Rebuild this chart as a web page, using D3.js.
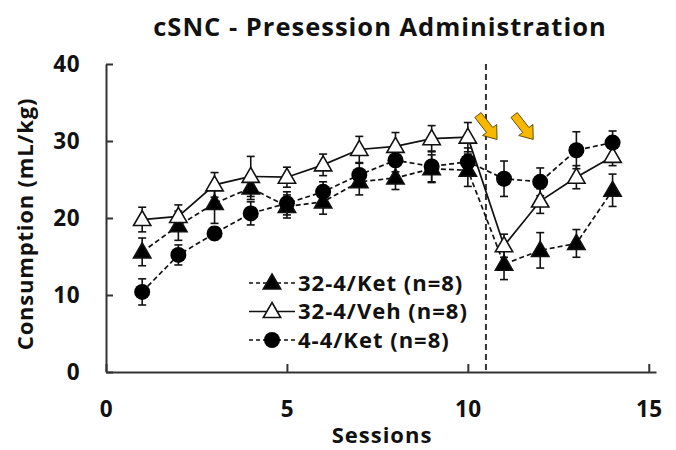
<!DOCTYPE html>
<html>
<head>
<meta charset="utf-8">
<script src="https://cdn.jsdelivr.net/npm/d3@7"></script>
<style>
  body { margin: 0; background: #fff; }
  text { font-family: "Open Sans", sans-serif; font-weight: 700; fill: #111; }
</style>
</head>
<body>
<svg id="chart" width="676" height="450"></svg>
<script>
// session numbers
var sessions = [1, 2, 3, 4, 5, 6, 7, 8, 9, 10, 11, 12, 13, 14];

// 32-4/Ket
var ket32 = [15.6, 19.0, 21.9, 23.9, 21.5, 22.1, 24.7, 25.2, 26.4, 26.2, 14.0, 15.8, 16.7, 23.6];
var ket32Err = [1.8, 1.9, 2.6, 1.5, 1.5, 1.6, 1.7, 1.5, 1.8, 2.1, 2.0, 2.3, 1.8, 2.1];
// 32-4/Veh
var veh32 = [19.8, 20.2, 24.3, 25.4, 25.3, 26.9, 28.9, 29.3, 30.3, 30.5, 16.4, 22.2, 25.3, 28.0];
var veh32Err = [1.6, 1.5, 1.6, 2.6, 1.3, 1.4, 1.7, 1.8, 1.7, 1.9, 1.5, 1.6, 1.5, 1.2];
// 4-4/Ket
var ket44 = [10.4, 15.2, 18.0, 20.6, 21.9, 23.4, 25.6, 27.5, 26.7, 27.3, 25.1, 24.7, 28.8, 29.8];
var ket44Err = [1.7, 1.3, 0.8, 1.5, 1.5, 1.3, 1.5, 1.5, 2.0, 1.8, 2.3, 1.8, 2.4, 1.5];

var seriesNames = ["32-4/Ket (n=8)", "32-4/Veh (n=8)", "4-4/Ket (n=8)"];
var xTicks = [0, 5, 10, 15];
var yTicks = [0, 10, 20, 30, 40];
var splitSession = 10.5;        // dashed vertical line
var arrowSessions = [11, 12];   // yellow arrows

var svg = d3.select("#chart");

var x = d3.scaleLinear().domain([0, 15.2]).range([106, 656]),
    y = d3.scaleLinear().domain([0, 40]).range([372, 64]);

var series = [
  {name: seriesNames[0], values: ket32, err: ket32Err, dash: "5,3", shape: "tri", fill: "#000"},
  {name: seriesNames[1], values: veh32, err: veh32Err, dash: null, shape: "tri", fill: "#fff"},
  {name: seriesNames[2], values: ket44, err: ket44Err, dash: "5,3", shape: "circle", fill: "#000"}
];

var triangle = d3.symbol().type(d3.symbolTriangle).size(130);

// title
svg.append("text")
    .attr("x", 380)
    .attr("y", 36)
    .attr("text-anchor", "middle")
    .attr("font-size", "25.5px")
    .attr("letter-spacing", "1px")
    .text("cSNC - Presession Administration");

// axes
var xAxis = d3.axisBottom(x)
    .tickValues(xTicks)
    .tickSize(-8)
    .tickSizeOuter(0)
    .tickPadding(29);

var yAxis = d3.axisLeft(y)
    .tickValues(yTicks)
    .tickSize(-7)
    .tickSizeOuter(0)
    .tickPadding(26);

var gx = svg.append("g")
    .attr("transform", "translate(0," + y(0) + ")")
    .call(xAxis);

var gy = svg.append("g")
    .attr("transform", "translate(" + x(0) + ",0)")
    .call(yAxis);

[gx, gy].forEach(function(g) {
  g.selectAll("path, line").attr("stroke", "#333").attr("stroke-width", 2);
  g.selectAll("text")
      .attr("font-size", "22.5px")
      .attr("letter-spacing", "0.5px")
      .attr("font-family", "Open Sans, sans-serif")
      .attr("font-weight", "700")
      .attr("fill", "#111");
});

svg.append("text")
    .attr("x", 382)
    .attr("y", 443)
    .attr("text-anchor", "middle")
    .attr("font-size", "22px")
    .attr("letter-spacing", "1px")
    .text("Sessions");

svg.append("text")
    .attr("transform", "translate(33,224) rotate(-90)")
    .attr("text-anchor", "middle")
    .attr("font-size", "22px")
    .attr("letter-spacing", "0.8px")
    .text("Consumption (mL/kg)");

// dashed split line
svg.append("line")
    .attr("x1", x(splitSession))
    .attr("x2", x(splitSession))
    .attr("y1", y(40))
    .attr("y2", y(0))
    .attr("stroke", "#333")
    .attr("stroke-width", 2)
    .attr("stroke-dasharray", "6,4");

var line = d3.line()
    .x(function(d, i) { return x(sessions[i]); })
    .y(function(d) { return y(d); });

// error bars
series.forEach(function(s) {
  var eb = svg.append("g").attr("stroke", "#111").attr("stroke-width", 1.6);
  s.values.forEach(function(v, i) {
    var cx = x(sessions[i]);
    eb.append("line").attr("x1", cx).attr("x2", cx).attr("y1", y(v - s.err[i])).attr("y2", y(v + s.err[i]));
    eb.append("line").attr("x1", cx - 4).attr("x2", cx + 4).attr("y1", y(v + s.err[i])).attr("y2", y(v + s.err[i]));
    eb.append("line").attr("x1", cx - 4).attr("x2", cx + 4).attr("y1", y(v - s.err[i])).attr("y2", y(v - s.err[i]));
  });
});

// lines
series.forEach(function(s) {
  svg.append("path")
      .attr("d", line(s.values))
      .attr("fill", "none")
      .attr("stroke", "#111")
      .attr("stroke-width", 1.7)
      .attr("stroke-dasharray", s.dash);
});

function drawMarker(g, s, cx, cy) {
  if (s.shape == "circle") {
    g.append("circle")
        .attr("cx", cx)
        .attr("cy", cy)
        .attr("r", 8)
        .attr("fill", s.fill);
  } else {
    g.append("path")
        .attr("d", triangle)
        .attr("transform", "translate(" + cx + "," + (cy + 1) + ")")
        .attr("fill", s.fill)
        .attr("stroke", "#111")
        .attr("stroke-width", 1.6);
  }
}

// markers
series.forEach(function(s) {
  var g = svg.append("g");
  s.values.forEach(function(v, i) {
    drawMarker(g, s, x(sessions[i]), y(v));
  });
});

// yellow arrows
arrowSessions.forEach(function(sess) {
  var tipX = x(sess) - 7,
      tipY = y(30.2);
  svg.append("path")
      .attr("d", "M0,0 L-12,-9 L-12,-4 L-31,-4 L-31,4 L-12,4 L-12,9 Z")
      .attr("transform", "translate(" + tipX + "," + tipY + ") rotate(52)")
      .attr("fill", "#f9b800")
      .attr("stroke", "#4a3a00")
      .attr("stroke-width", 0.8);
});

// legend
var legend = svg.append("g");
series.forEach(function(s, i) {
  var ly = 283 + i * 28.5;
  legend.append("line")
      .attr("x1", 249)
      .attr("x2", 295)
      .attr("y1", ly)
      .attr("y2", ly)
      .attr("stroke", "#111")
      .attr("stroke-width", 1.6)
      .attr("stroke-dasharray", s.dash ? "4,3" : null);
  drawMarker(legend, s, 272, ly);
  legend.append("text")
      .attr("x", 298)
      .attr("y", ly)
      .attr("dy", "0.35em")
      .attr("font-size", "22px")
      .attr("letter-spacing", "1px")
      .text(s.name);
});
</script>
</body>
</html>
